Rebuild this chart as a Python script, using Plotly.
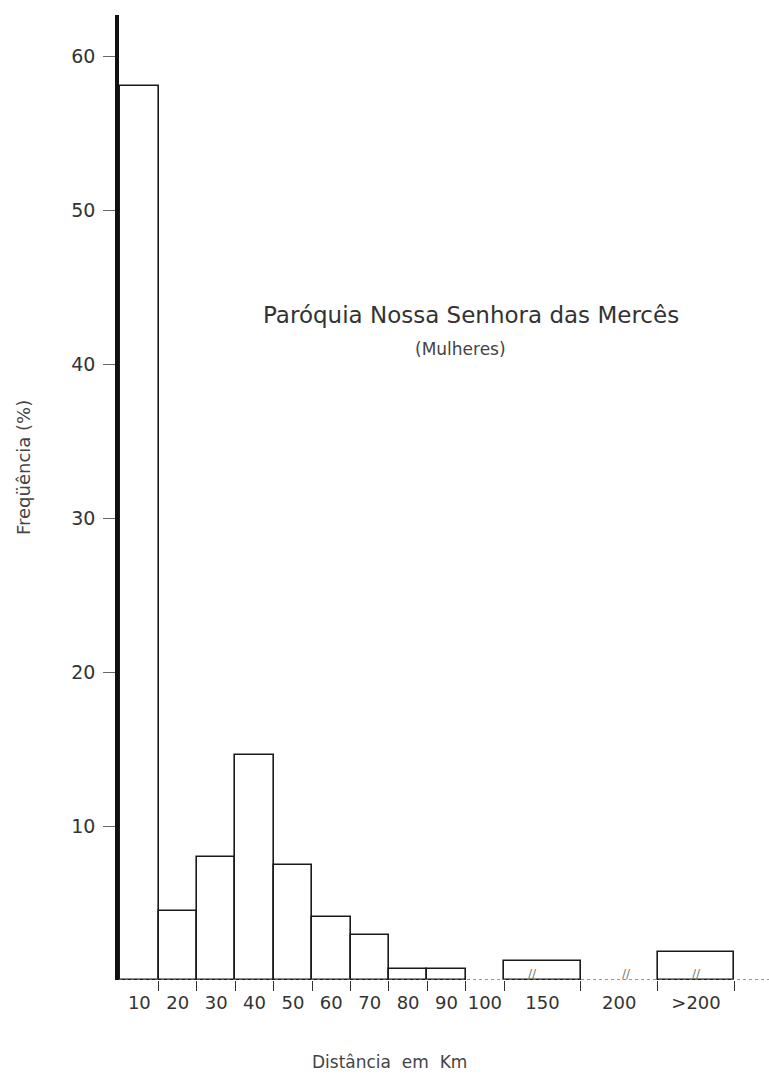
import plotly.graph_objects as go

# Data
bin_labels = ["10", "20", "30", "40", "50", "60", "70", "80", "90", "100", "150", "200", ">200"]
freq_pct = [58.1, 4.5, 8.0, 14.6, 7.5, 4.1, 2.9, 0.7, 0.7, 0.0, 1.25, 0.0, 1.85]
# bin edges on the drawn (broken) distance scale: 0..100 in steps of 10, then double-width bins
bin_left = [0, 1, 2, 3, 4, 5, 6, 7, 8, 9, 10, 12, 14]
bin_width = [1, 1, 1, 1, 1, 1, 1, 1, 1, 1, 2, 2, 2]
y_ticks = [10, 20, 30, 40, 50, 60]

centers = [l + w / 2 for l, w in zip(bin_left, bin_width)]
edges = sorted(set([l + w for l, w in zip(bin_left, bin_width)]))

FONT = "DejaVu Sans"
INK = "#1a1a1a"

vals = [v if v > 0 else None for v in freq_pct]

fig = go.Figure()
fig.add_trace(go.Bar(
    x=centers, y=vals, width=bin_width,
    marker=dict(color="white", line=dict(color=INK, width=1.6)),
    showlegend=False, hoverinfo="x+y",
))

fig.update_layout(
    width=769, height=1077,
    margin=dict(l=119, r=0, t=15, b=97),
    paper_bgcolor="white", plot_bgcolor="white",
    font=dict(family=FONT, color=INK),
    bargap=0,
    xaxis=dict(
        range=[-0.03, 16.9], showgrid=False, zeroline=False, showline=False,
        tickmode="array", tickvals=centers, ticktext=bin_labels,
        ticks="", ticklabelstandoff=10,
        tickfont=dict(size=18, family=FONT, color="#333"),
        minor=dict(tickmode="array", tickvals=edges, ticks="outside", ticklen=10,
                   tickwidth=1.4, tickcolor="#333"),
    ),
    yaxis=dict(
        range=[0, 62.7], showgrid=False, zeroline=False,
        showline=True, linecolor="#111", linewidth=3.5,
        tickmode="array", tickvals=y_ticks, ticktext=[str(t) for t in y_ticks],
        ticks="outside", ticklen=12, tickwidth=1.4, tickcolor="#666",
        ticklabelstandoff=4,
        tickfont=dict(size=19, family=FONT, color="#333"),
    ),
    shapes=[dict(type="line", xref="paper", yref="y", x0=0, x1=1, y0=0, y1=0,
                 line=dict(color="#777", width=1.4, dash="dot"), layer="above")],
    annotations=[
        dict(text="Paróquia Nossa Senhora das Mercês", xref="paper", yref="paper",
             x=0.542, y=0.689, xanchor="center", yanchor="middle", showarrow=False,
             font=dict(size=23, family=FONT, color="#333")),
        dict(text="(Mulheres)", xref="paper", yref="paper",
             x=0.525, y=0.654, xanchor="center", yanchor="middle", showarrow=False,
             font=dict(size=17, family=FONT, color="#444")),
        dict(text="Distância  em  Km", xref="paper", yref="paper",
             x=0.416, y=-0.085, xanchor="center", yanchor="middle", showarrow=False,
             font=dict(size=17, family=FONT, color="#444")),
        dict(text="Freqüência (%)", xref="paper", yref="paper",
             x=-0.147, y=0.531, xanchor="center", yanchor="middle", showarrow=False,
             textangle=-90,
             font=dict(size=18, family=FONT, color="#444")),
        dict(text="//", x=10.75, y=0.4, xref="x", yref="y", showarrow=False,
             font=dict(size=12, family=FONT, color="#777")),
        dict(text="//", x=13.2, y=0.4, xref="x", yref="y", showarrow=False,
             font=dict(size=12, family=FONT, color="#777")),
        dict(text="//", x=15.0, y=0.4, xref="x", yref="y", showarrow=False,
             font=dict(size=12, family=FONT, color="#777")),
    ],
)

fig.write_html("out.html")
